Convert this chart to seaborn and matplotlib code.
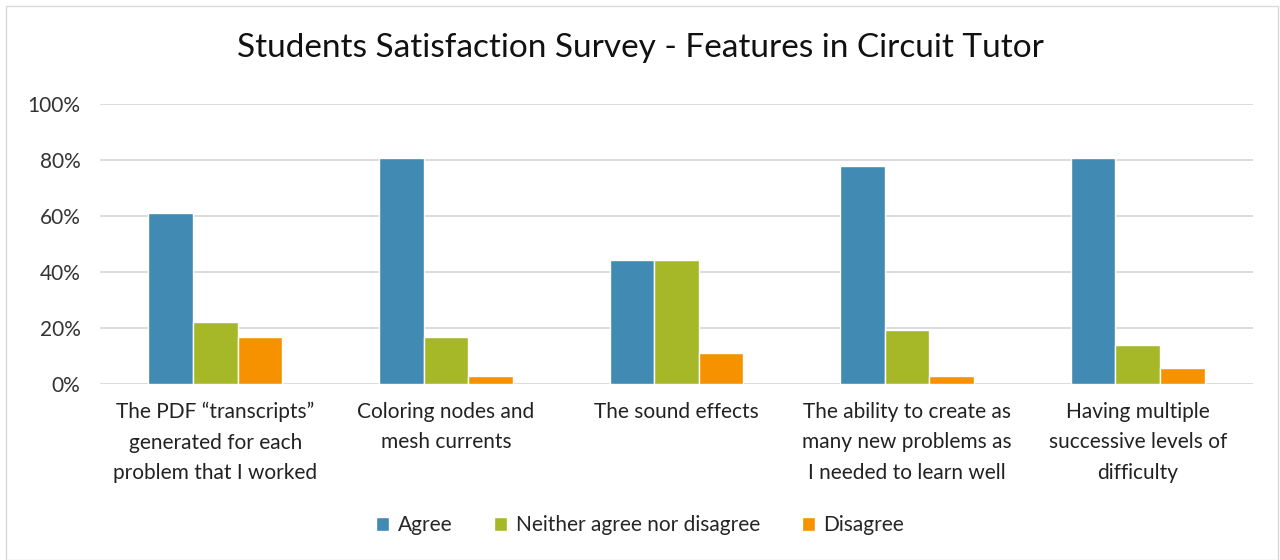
import pandas as pd
import matplotlib.pyplot as plt
import seaborn as sns
from matplotlib.ticker import PercentFormatter
from matplotlib.patches import Rectangle

# Survey results (share of students, 36 respondents)
features = [
    "The PDF \u201ctranscripts\u201d\ngenerated for each\nproblem that I worked",
    "Coloring nodes and\nmesh currents",
    "The sound effects",
    "The ability to create as\nmany new problems as\nI needed to learn well",
    "Having multiple\nsuccessive levels of\ndifficulty",
]
responses = ["Agree", "Neither agree nor disagree", "Disagree"]
agree = [61.1, 80.6, 44.4, 77.8, 80.6]
neither = [22.2, 16.7, 44.4, 19.4, 13.9]
disagree = [16.7, 2.8, 11.1, 2.8, 5.6]
colors = ["#418AB3", "#A6B727", "#F69200"]

rows = []
for resp, vals in zip(responses, [agree, neither, disagree]):
    for feat, v in zip(features, vals):
        rows.append({"feature": feat, "response": resp, "value": v})
df = pd.DataFrame(rows)

sns.set_style("white")
plt.rcParams['font.family'] = ['Lato', 'DejaVu Sans']

fig = plt.figure(figsize=(12.8, 5.6), dpi=100)
ax = fig.add_axes([100 / 1280, 1 - 384 / 560, 1153 / 1280, 280 / 560])

sns.barplot(data=df, x="feature", y="value", hue="response",
            hue_order=responses, palette=colors, width=0.58,
            saturation=1, ax=ax, legend=True)

ax.set_ylim(0, 100)
ax.set_yticks(range(0, 101, 20))
ax.yaxis.set_major_formatter(PercentFormatter(decimals=0))
ax.grid(axis="y", color="#D9D9D9", linewidth=1.3)
ax.set_axisbelow(True)
for s in ax.spines.values():
    s.set_visible(False)
ax.set_xlabel("")
ax.set_ylabel("")
ax.tick_params(axis="y", labelsize=15, colors="#333333", pad=14, length=0)
ax.tick_params(axis="x", labelsize=15, colors="#222222", pad=13, length=0)
for lbl in ax.get_xticklabels():
    lbl.set_linespacing(1.65)
    lbl.set_va("top")

fig.text(0.5, 1 - 48 / 560, "Students Satisfaction Survey - Features in Circuit Tutor",
         ha="center", va="center", fontsize=24, color="#111111")

ax.legend(loc="center", bbox_to_anchor=(0.5, 1 - 525 / 560), bbox_transform=fig.transFigure,
          ncol=3, frameon=False, fontsize=15, handlelength=0.65, handleheight=0.65,
          handletextpad=0.4, columnspacing=2.0)

fig.patches.append(Rectangle((6 / 1280, 0), 1 - 8 / 1280, 1 - 6 / 560, transform=fig.transFigure,
                             fill=False, edgecolor="#D9D9D9", linewidth=1))

fig.savefig("out.png", dpi=100)
